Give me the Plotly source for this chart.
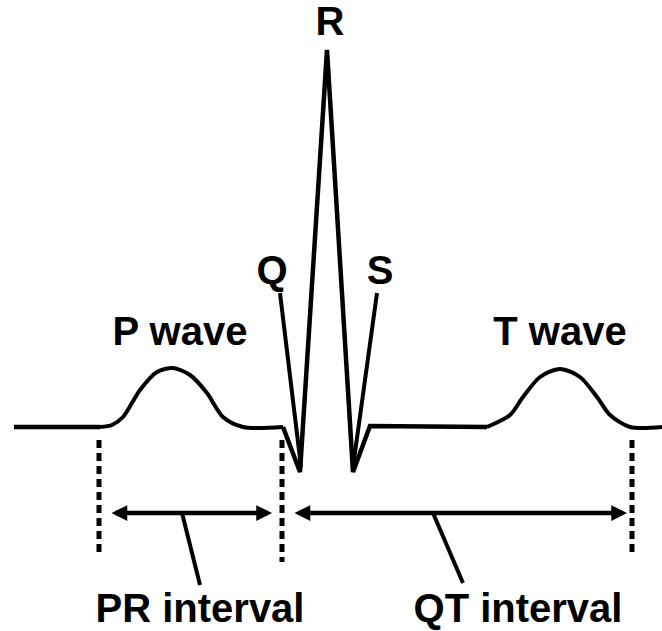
import plotly.graph_objects as go

# ECG trace pieces (picture coordinates, y grows downward)
base_left_x = [14, 100]
base_left_y = [427, 427]
p_wave_x = [100, 112, 123, 140, 157, 173, 190, 207, 223, 243, 283]
p_wave_y = [427, 425, 417, 390, 372, 368, 375, 393, 417, 427, 427]
qrs_x = [283, 300, 327, 353, 370, 487]
qrs_y = [427, 472, 50, 472, 426, 427]
t_wave_x = [487, 510, 523, 540, 560, 580, 597, 610, 630, 662]
t_wave_y = [427, 415, 397, 377, 369, 377, 397, 415, 427, 427]

# dashed boundary markers
marker_x = [99, 282, 632]
marker_top = [440, 440, 440]
marker_bottom = [557, 562, 553]

# interval arrows
interval_names = ["PR interval", "QT interval"]
interval_start = [110, 293]
interval_end = [272, 627]
interval_y = [513, 513]
label_x = [200, 518]
label_y = [612, 612]
pointer_from = [(182, 513), (433, 513)]
pointer_to = [(200, 585), (463, 583)]

# wave labels
wave_labels = ["P wave", "T wave", "Q", "R", "S"]
wave_label_x = [180, 560, 272, 330, 380]
wave_label_y = [335, 335, 274, 25, 274]
wave_pointer_from = [(280, 293), (377, 293)]
wave_pointer_to = [(301, 467), (353, 467)]

INK = "black"
W, H = 662, 631

fig = go.Figure()

fig.add_trace(go.Scatter(x=base_left_x, y=base_left_y, mode="lines",
                         line=dict(color=INK, width=4.5)))
fig.add_trace(go.Scatter(x=p_wave_x, y=p_wave_y, mode="lines",
                         line=dict(color=INK, width=4, shape="spline", smoothing=0.8)))
fig.add_trace(go.Scatter(x=qrs_x, y=qrs_y, mode="lines",
                         line=dict(color=INK, width=4.5)))
fig.add_trace(go.Scatter(x=t_wave_x, y=t_wave_y, mode="lines",
                         line=dict(color=INK, width=4, shape="spline", smoothing=0.8),
                         cliponaxis=False))

for mx, t, b in zip(marker_x, marker_top, marker_bottom):
    fig.add_trace(go.Scatter(x=[mx, mx], y=[t, b], mode="lines",
                             line=dict(color=INK, width=5, dash="8px,5px")))

for (x0, y0), (x1, y1) in zip(pointer_from + wave_pointer_from, pointer_to + wave_pointer_to):
    fig.add_trace(go.Scatter(x=[x0, x1], y=[y0, y1], mode="lines",
                             line=dict(color=INK, width=4)))

FONT = dict(family="Liberation Sans, Arial, sans-serif", size=40, color=INK, weight="bold")
fig.add_trace(go.Scatter(x=label_x + wave_label_x, y=label_y + wave_label_y,
                         text=interval_names + wave_labels, mode="text",
                         textposition="middle center", textfont=FONT,
                         cliponaxis=False, hoverinfo="skip"))

annotations = []
for xs, xe, yy in zip(interval_start, interval_end, interval_y):
    annotations.append(dict(x=xe, y=yy, ax=xs, ay=yy, xref="x", yref="y",
                            axref="x", ayref="y", text="", showarrow=True,
                            arrowhead=2, startarrowhead=2, arrowside="end+start",
                            arrowsize=0.7, startarrowsize=0.7, arrowwidth=4.5,
                            arrowcolor=INK))

fig.update_layout(
    width=W, height=H,
    margin=dict(l=0, r=0, t=0, b=0),
    paper_bgcolor="white", plot_bgcolor="white",
    showlegend=False,
    hovermode=False,
    xaxis=dict(range=[0, W], visible=False, fixedrange=True),
    yaxis=dict(range=[H, 0], visible=False, fixedrange=True),
    annotations=annotations,
)

# remove the page's default body margin so the figure fills the window exactly
fig.write_html("out.html",
               config={"displayModeBar": False, "staticPlot": True},
               post_script="document.body.style.margin='0px';document.body.style.overflow='hidden';")
